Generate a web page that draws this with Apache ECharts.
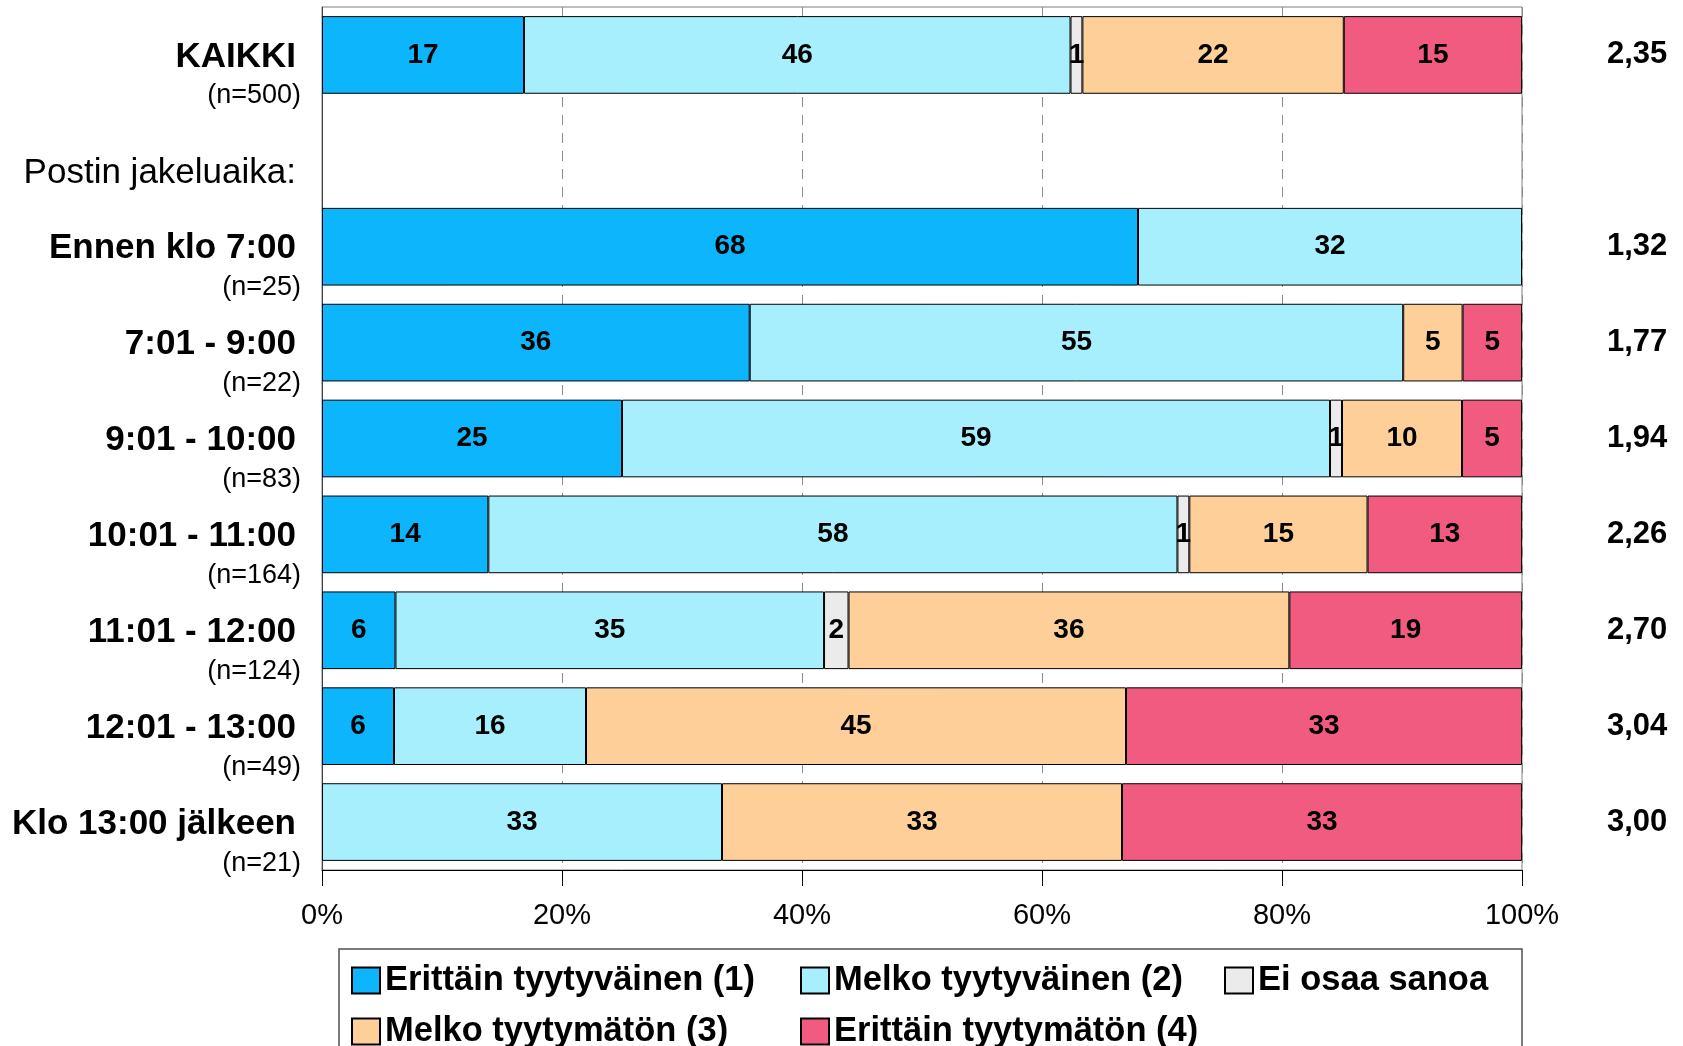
<!DOCTYPE html>
<html>
<head>
<meta charset="utf-8">
<script src="https://cdn.jsdelivr.net/npm/echarts@6/dist/echarts.min.js"></script>
<style>
html,body{margin:0;padding:0;background:#fff;}
#chart{width:1683px;height:1046px;}
</style>
</head>
<body>
<div id="chart"></div>
<script>
// ---- data (percentages as printed in the bars; bars are 100 % stacked) ----
const categories = ['KAIKKI', 'Postin jakeluaika:', 'Ennen klo 7:00', '7:01 - 9:00', '9:01 - 10:00',
  '10:01 - 11:00', '11:01 - 12:00', '12:01 - 13:00', 'Klo 13:00 jälkeen'];
const sampleSizes = ['(n=500)', '', '(n=25)', '(n=22)', '(n=83)', '(n=164)', '(n=124)', '(n=49)', '(n=21)'];
const means = ['2,35', '', '1,32', '1,77', '1,94', '2,26', '2,70', '3,04', '3,00'];
const seriesNames = ['Erittäin tyytyväinen (1)', 'Melko tyytyväinen (2)', 'Ei osaa sanoa',
  'Melko tyytymätön (3)', 'Erittäin tyytymätön (4)'];
const veryStatisfied = [17, null, 68, 36, 25, 14, 6, 6, null];
const fairlySatisfied = [46, null, 32, 55, 59, 58, 35, 16, 33];
const dontKnow = [1, null, null, null, 1, 1, 2, null, null];
const fairlyDissatisfied = [22, null, null, 5, 10, 15, 36, 45, 33];
const veryDissatisfied = [15, null, null, 5, 5, 13, 19, 33, 33];
const xTicks = [0, 20, 40, 60, 80, 100];
const colors = ['#0cb5fc', '#a7effd', '#ebebeb', '#fecf99', '#f25b80'];

const raw = [veryStatisfied, fairlySatisfied, dontKnow, fairlyDissatisfied, veryDissatisfied];
const totals = categories.map((c, i) => raw.reduce((s, arr) => s + (arr[i] || 0), 0));

const FONT = '"Liberation Sans", Arial, sans-serif';
const chart = echarts.init(document.getElementById('chart'));

const series = raw.map((arr, si) => ({
  name: seriesNames[si],
  type: 'bar',
  stack: 'total',
  barCategoryGap: '19%',
  data: arr.map((v, i) => (v == null ? null : v / totals[i] * 100)),
  itemStyle: { color: colors[si], borderColor: '#000', borderWidth: 1 },
  label: {
    show: true,
    position: 'inside',
    fontFamily: FONT,
    fontSize: 28,
    fontWeight: 'bold',
    color: '#000',
    padding: [4, 0, 0, 0],
    formatter: p => String(raw[si][p.dataIndex])
  },
  emphasis: { disabled: true }
}));

const legendPos = [[351, 963], [800, 963], [1224, 963], [351, 1014], [800, 1014]];
const legends = seriesNames.map((n, i) => ({
  data: [n],
  left: legendPos[i][0],
  top: legendPos[i][1],
  padding: 0,
  icon: 'rect',
  itemWidth: 28,
  itemHeight: 26,
  selectedMode: false,
  textStyle: { fontFamily: FONT, fontSize: 34.5, fontWeight: 'bold', color: '#000' }
}));

chart.setOption({
  animation: false,
  textStyle: { fontFamily: FONT },
  legend: legends,
  grid: { left: 322, top: 7, width: 1200, height: 863, show: true, borderColor: '#808080', borderWidth: 1 },
  xAxis: {
    type: 'value',
    min: xTicks[0],
    max: xTicks[xTicks.length - 1],
    interval: xTicks[1] - xTicks[0],
    axisLine: { show: true, lineStyle: { color: '#000', width: 1 } },
    axisTick: { show: true, length: 16, lineStyle: { color: '#000' } },
    axisLabel: { formatter: '{value}%', fontFamily: FONT, fontSize: 29, color: '#000', margin: 31 },
    splitLine: { show: true, lineStyle: { color: '#8c8c8c', type: [10, 8], width: 1 } }
  },
  yAxis: [
    {
      type: 'category',
      data: categories,
      inverse: true,
      axisLine: { show: true, lineStyle: { color: '#404040' } },
      axisTick: { show: false },
      axisLabel: {
        margin: 21,
        padding: [42, 0, 0, 0],
        formatter: (v, i) => sampleSizes[i] === '' ? '{p|' + v + '}' : '{b|' + v + '}\n{n|' + sampleSizes[i] + '}',
        rich: {
          b: { fontFamily: FONT, fontSize: 35, fontWeight: 'bold', color: '#000', lineHeight: 40, align: 'right', padding: [0, 5, 0, 0] },
          n: { fontFamily: FONT, fontSize: 27, color: '#000', lineHeight: 38, align: 'right' },
          p: { fontFamily: FONT, fontSize: 35, color: '#000', lineHeight: 40, padding: [4, 5, 0, 0], align: 'right' }
        }
      }
    },
    {
      type: 'category',
      data: categories,
      inverse: true,
      position: 'right',
      axisLine: { show: false },
      axisTick: { show: false },
      axisLabel: {
        margin: 85,
        padding: [7, 0, 0, 0],
        formatter: (v, i) => means[i],
        fontFamily: FONT, fontSize: 31, fontWeight: 'bold', color: '#000'
      }
    }
  ],
  graphic: [{
    type: 'rect',
    shape: { x: 339, y: 949, width: 1183, height: 120 },
    style: { fill: 'none', stroke: '#505050', lineWidth: 1.5 },
    silent: true
  }],
  series: series
});
</script>
</body>
</html>
